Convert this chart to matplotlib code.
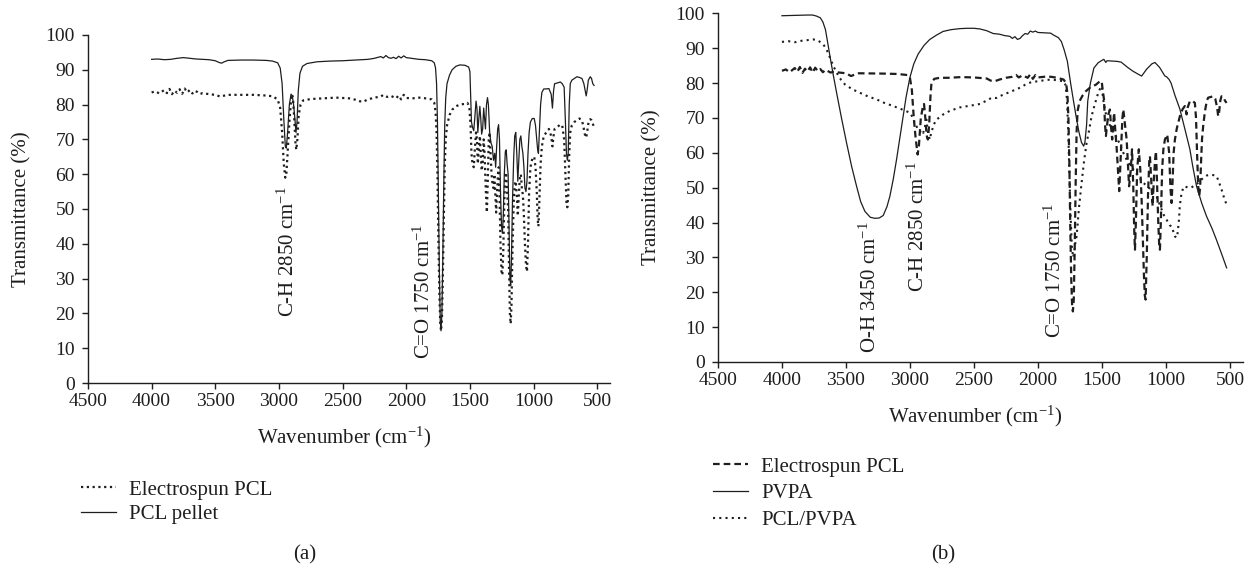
import matplotlib
matplotlib.use("Agg")
import matplotlib.pyplot as plt

plt.rcParams['font.family'] = ['Liberation Serif', 'DejaVu Serif']
plt.rcParams['mathtext.fontset'] = 'custom'
plt.rcParams['mathtext.rm'] = 'Liberation Serif'
plt.rcParams['mathtext.it'] = 'Liberation Serif:italic'

INK = '#1e1e1e'

# ---------------- panel (a) data ----------------
a_pellet_wn = [4000, 3950, 3900, 3850, 3800, 3750, 3700, 3650, 3600, 3550, 3500, 3470, 3450, 3430, 3400,
               3300, 3200, 3100, 3050, 3010, 2990, 2975, 2962, 2950, 2942, 2932, 2918, 2905, 2895, 2885,
               2875, 2866, 2858, 2848, 2835, 2815, 2780, 2700, 2600, 2500, 2400, 2300, 2250, 2200, 2180,
               2160, 2140, 2120, 2100, 2080, 2060, 2040, 2020, 2000, 1960, 1900, 1850, 1800, 1780, 1770,
               1762, 1755, 1748, 1740, 1733, 1727, 1720, 1713, 1705, 1698, 1690, 1680, 1660, 1640, 1610,
               1580, 1540, 1510, 1500, 1494, 1488, 1480, 1470, 1460, 1452, 1445, 1438, 1430, 1422, 1415,
               1408, 1400, 1392, 1385, 1378, 1370, 1362, 1355, 1345, 1335, 1325, 1315, 1305, 1298, 1290,
               1282, 1275, 1268, 1260, 1252, 1245, 1238, 1230, 1222, 1215, 1208, 1200, 1193, 1186, 1180,
               1174, 1166, 1156, 1148, 1140, 1132, 1124, 1116, 1108, 1100, 1092, 1084, 1076, 1068, 1060,
               1052, 1044, 1035, 1025, 1010, 995, 985, 975, 968, 962, 955, 945, 935, 920, 900, 880, 862,
               852, 843, 835, 815, 790, 775, 760, 750, 742, 735, 728, 720, 712, 700, 680, 660, 640, 620,
               605, 595, 587, 580, 570, 555, 545, 535, 525]
a_pellet_T = [93.0, 93.1, 92.9, 93.0, 93.3, 93.5, 93.3, 93.1, 93.0, 92.9, 92.6, 92.1, 91.9, 92.3, 92.7,
              92.8, 92.8, 92.7, 92.5, 92.0, 90.5, 86, 76, 68, 67.5, 72, 80, 83, 82.5, 80,
              76, 72, 75, 84, 89, 91, 91.8, 92.3, 92.5, 92.6, 92.8, 93.0, 93.3, 93.8, 93.4,
              94.1, 93.5, 93.3, 93.6, 93.2, 93.9, 93.4, 94.0, 93.5, 93.3, 93.0, 92.9, 92.6, 92.0, 90.5,
              86, 75, 55, 32, 18, 15, 20, 36, 58, 74, 82, 86, 88.5, 90, 91,
              91.4, 91.3, 90.8, 89.5, 82, 75, 73.5, 72.5, 77, 81, 79, 72, 76, 79.5, 76,
              71.5, 73, 79, 76, 73, 80, 82, 80, 72, 69, 68, 64, 66, 62, 68,
              73, 74.2, 70, 55, 45, 43, 48, 60, 66.5, 67, 63, 60, 45, 30, 28,
              35, 52, 65, 71, 72, 66, 58, 64, 70, 71, 68, 66, 62, 56, 55,
              58, 66, 72, 75, 76, 76, 74, 70, 67, 66, 72, 80, 83.5, 84.5, 84.5, 84.6, 83,
              79, 84, 86, 86.2, 86.5, 86, 85, 75, 66, 64, 66, 80, 86, 87, 87.5, 88, 87.8, 87.5,
              86, 84, 82.5, 84, 87, 88, 87.5, 86, 85.5]

a_espun_wn = [4000, 3970, 3940, 3900, 3880, 3860, 3840, 3820, 3800, 3780, 3760, 3740, 3720, 3700, 3680,
              3660, 3640, 3620, 3600, 3550, 3500, 3460, 3440, 3400, 3300, 3200, 3100, 3050, 3010, 2990,
              2975, 2962, 2950, 2942, 2932, 2918, 2905, 2898, 2890, 2880, 2870, 2864, 2855, 2845, 2830,
              2810, 2750, 2650, 2550, 2450, 2400, 2370, 2340, 2300, 2250, 2200, 2180, 2150, 2120, 2080,
              2060, 2040, 2020, 2000, 1950, 1900, 1850, 1800, 1780, 1770, 1762, 1755, 1748, 1740, 1733,
              1727, 1720, 1713, 1705, 1698, 1690, 1680, 1660, 1640, 1610, 1580, 1540, 1520, 1505, 1495,
              1488, 1480, 1470, 1460, 1452, 1445, 1438, 1430, 1422, 1415, 1408, 1400, 1392, 1385, 1375,
              1367, 1360, 1352, 1345, 1338, 1330, 1322, 1315, 1308, 1300, 1294, 1288, 1280, 1274, 1268,
              1260, 1252, 1245, 1238, 1230, 1222, 1215, 1208, 1200, 1193, 1186, 1180, 1174, 1166, 1156,
              1148, 1140, 1132, 1124, 1116, 1108, 1100, 1092, 1084, 1076, 1068, 1060, 1052, 1044, 1035,
              1025, 1010, 995, 985, 975, 968, 962, 955, 945, 935, 920, 900, 880, 862, 852, 843, 835,
              815, 790, 775, 760, 750, 742, 735, 728, 720, 712, 700, 680, 660, 640, 620, 605, 595, 587,
              580, 570, 555, 545, 535, 525]
a_espun_T = [83.5, 83.8, 83.2, 84.2, 83.3, 84.5, 83.0, 84.0, 83.4, 84.4, 83.1, 84.6, 83.5, 84.2, 83.2,
             84.0, 83.6, 83.0, 83.3, 83.0, 82.8, 82.3, 82.5, 82.8, 82.8, 82.8, 82.6, 82.4, 81.5, 79,
             72, 63, 59, 60, 66, 75, 81, 83, 82, 76, 69, 67, 70, 77, 80,
             81.2, 81.6, 81.8, 82.0, 81.8, 81.4, 81.0, 80.8, 81.5, 82.0, 82.3, 82.8, 82.2, 82.5, 81.8,
             82.6, 81.5, 82.8, 81.9, 81.8, 82.0, 81.8, 81.5, 80.5, 78, 72, 60, 42, 26, 17,
             15, 18, 30, 48, 62, 70, 74, 77, 78.5, 79.5, 80, 80.2, 80.5, 79.5, 74,
             66, 63, 62, 68, 72, 70, 63, 67, 71, 66, 61, 63, 70, 66, 55,
             49, 58, 70, 72, 66, 60, 57, 56, 60, 54, 49, 54, 60, 62, 55,
             40, 32, 31, 38, 52, 60, 60.5, 55, 50, 33, 20, 17, 22, 38, 52,
             57, 58, 54, 48, 54, 59, 60, 56, 54, 48, 40, 34, 32, 40, 55,
             62, 64.5, 65, 62, 55, 47, 45, 52, 63, 68, 71, 72, 73, 71, 68, 71, 73,
             73.5, 74.3, 74, 70, 60, 52, 50.5, 54, 66, 72, 74, 75, 75.5, 76, 75.5, 73, 71, 70.5,
             72, 74.5, 75.8, 75.5, 74.5, 73.5]

# ---------------- panel (b) data ----------------
b_pvpa_wn = [4000, 3900, 3800, 3760, 3730, 3700, 3680, 3660, 3640, 3625, 3600, 3573, 3535, 3495, 3455,
             3417, 3385, 3352, 3310, 3274, 3240, 3209, 3180, 3157, 3130, 3105, 3080, 3053, 3030, 3001,
             2970, 2936, 2890, 2845, 2790, 2741, 2680, 2611, 2550, 2500, 2452, 2400, 2350, 2300, 2260,
             2220, 2200, 2180, 2160, 2140, 2120, 2100, 2080, 2060, 2040, 2020, 2000, 1950, 1900, 1880,
             1840, 1817, 1795, 1770, 1745, 1722, 1700, 1680, 1660, 1643, 1633, 1620, 1611, 1590, 1563,
             1530, 1500, 1485, 1470, 1460, 1420, 1380, 1350, 1300, 1258, 1220, 1190, 1150, 1110, 1086,
             1050, 1008, 995, 975, 960, 930, 891, 850, 813, 790, 761, 720, 683, 640, 605, 565, 526]
b_pvpa_T = [99.3, 99.4, 99.5, 99.5, 99.2, 98.7, 97.5, 95.3, 91, 87.7, 82.5, 77.2, 70, 62.8, 56,
            50.4, 46, 43.2, 41.5, 41.2, 41.3, 42, 44.5, 47.5, 52.5, 58, 64, 70.5, 76, 81.5,
            85.5, 88.3, 90.8, 92.5, 93.8, 94.8, 95.3, 95.6, 95.7, 95.7, 95.5, 95.0, 94.2, 94.0, 93.6,
            93.4, 92.8, 93.3, 92.5, 92.8, 93.6, 94.2, 94.0, 94.9, 94.6, 94.9, 94.5, 94.4, 94.3, 93.8,
            93.0, 91.9, 89.5, 86.2, 80, 74.8, 70, 66, 63, 61.9, 63, 68, 74.8, 80, 84.3,
            85.8, 86.5, 86.8, 85.9, 86.4, 86.3, 86.2, 86.0, 84.5, 83.4, 82.6, 82.0, 84, 85.5, 85.9,
            84.5, 82, 81.8, 81, 80, 76.5, 72.5, 66.5, 61, 56, 50.4, 45.5, 41.8, 38.3, 35, 31, 27]

b_espun_wn = [4000, 3970, 3940, 3900, 3880, 3860, 3840, 3820, 3800, 3780, 3760, 3740, 3720, 3700, 3680,
              3660, 3640, 3620, 3600, 3500, 3460, 3440, 3400, 3200, 3100, 3020, 3000, 2985, 2970, 2955,
              2940, 2930, 2915, 2900, 2890, 2880, 2870, 2860, 2850, 2840, 2832, 2810, 2767, 2700, 2600,
              2500, 2400, 2370, 2340, 2300, 2250, 2200, 2170, 2150, 2120, 2080, 2060, 2040, 2020, 2000,
              1950, 1900, 1850, 1800, 1780, 1770, 1762, 1755, 1748, 1740, 1733, 1727, 1720, 1713, 1705,
              1698, 1690, 1675, 1650, 1627, 1590, 1548, 1516, 1502, 1494, 1484, 1476, 1469, 1460, 1450,
              1438, 1428, 1420, 1412, 1405, 1395, 1386, 1375, 1365, 1352, 1340, 1333, 1320, 1307, 1295,
              1288, 1275, 1265, 1255, 1248, 1242, 1235, 1225, 1212, 1200, 1190, 1180, 1172, 1165, 1159,
              1150, 1140, 1130, 1125, 1115, 1104, 1095, 1085, 1078, 1070, 1060, 1052, 1047, 1040, 1030,
              1020, 1008, 990, 975, 965, 956, 948, 940, 930, 915, 891, 870, 852, 845, 839, 830, 813,
              790, 774, 765, 757, 748, 740, 733, 725, 718, 709, 695, 680, 670, 650, 631, 615, 600, 592,
              585, 575, 566, 550, 540, 526]
b_espun_T = [83.5, 83.9, 83.1, 84.3, 83.2, 84.6, 82.9, 84.1, 83.3, 84.5, 83.0, 84.4, 83.4, 84.0, 83.1,
             83.8, 83.4, 83.0, 83.2, 82.8, 82.0, 82.3, 82.8, 82.7, 82.6, 82.3, 81.5, 78, 70, 64,
             59.5, 62, 70, 73, 74, 70, 65, 63.8, 68, 76, 80, 81.2, 81.5, 81.5, 81.7,
             81.6, 81.3, 80.7, 80.5, 81.0, 81.5, 81.8, 82.3, 81.6, 82.2, 81.5, 82.5, 81.2, 82.3, 81.6,
             81.8, 81.8, 81.5, 81.0, 80, 77, 70, 58, 40, 24, 16, 14.5, 18, 32, 52,
             66, 72, 74.8, 76.5, 77.6, 78.8, 79.5, 80.5, 80.5, 78, 75.3, 68, 64.8, 68, 71,
             72.4, 67, 63.8, 68, 71.5, 66, 61.9, 55, 49, 60, 70, 72.4, 68, 63.8, 55,
             50.4, 55, 61, 50, 38, 32.2, 40, 55, 61, 55, 46.6, 35, 25, 19, 17.9,
             30, 48, 58, 59, 52, 44.7, 52, 58, 60.4, 52, 40, 33, 32.2, 40, 55,
             61, 63.8, 65.2, 60, 50, 45.6, 52, 60, 63.8, 67, 70.5, 72.5, 73.4, 72.5, 71, 73, 74.8,
             74.8, 74.3, 70, 60, 50.4, 47.6, 50, 58, 64, 67.7, 72, 75, 75.8, 76, 76.2, 75.5, 73, 70.5,
             71.5, 75, 76.2, 76, 75, 74.3]

b_blend_wn = [4000, 3950, 3900, 3850, 3800, 3755, 3720, 3700, 3677, 3650, 3625, 3600, 3573, 3540, 3508,
              3450, 3391, 3330, 3261, 3200, 3131, 3060, 3001, 2975, 2960, 2949, 2935, 2920, 2910, 2897,
              2885, 2871, 2860, 2850, 2845, 2835, 2815, 2793, 2740, 2689, 2611, 2530, 2452, 2400, 2360,
              2325, 2300, 2262, 2214, 2150, 2100, 2050, 2000, 1950, 1900, 1850, 1800, 1785, 1775, 1765,
              1755, 1745, 1735, 1725, 1715, 1705, 1698, 1680, 1659, 1640, 1620, 1600, 1581, 1555, 1529,
              1510, 1502, 1490, 1475, 1464, 1440, 1420, 1400, 1380, 1360, 1340, 1320, 1300, 1280, 1260,
              1240, 1220, 1200, 1180, 1150, 1120, 1100, 1073, 1040, 1015, 995, 970, 956, 944, 930, 913,
              900, 891, 880, 865, 852, 830, 802, 787, 748, 709, 680, 656, 630, 604, 585, 565, 545, 526]
b_blend_T = [91.8, 92.0, 91.7, 92.1, 92.3, 92.5, 92.3, 91.7, 91.1, 89.5, 87.3, 85, 83, 81, 79.6,
             78.2, 77.2, 76.2, 75.3, 74.3, 73.4, 72.4, 71.5, 70, 68, 67.6, 66.5, 66, 66.5, 65.7,
             67, 69.5, 66, 64.5, 63.8, 65.5, 68, 69.5, 71, 72, 73, 73.5, 74, 75, 75.8,
             75.7, 76.2, 76.8, 77.5, 78.5, 79.5, 80.3, 80.5, 80.8, 81.0, 80.8, 80.5, 79.5, 76, 68,
             55, 42, 33, 30, 32, 35, 36, 44, 51.4, 57.5, 62.8, 66.5, 70.5, 74, 77.2,
             78.8, 79.1, 75.3, 72, 70.5, 68, 67, 65.5, 64, 62.5, 60.5, 59, 57.5, 56.5, 55.5,
             54.5, 53.5, 52.5, 51.5, 50.5, 49.5, 48.5, 47.5, 44.3, 42, 40.8, 39.2, 38.9, 37.6, 36, 35.7,
             40, 45, 48, 50, 50.4, 50, 50, 50.4, 51.4, 52.8, 53.5, 53.7, 53.6, 53.3, 51.5, 49.4, 47, 45.1]

x_ticks = [4500, 4000, 3500, 3000, 2500, 2000, 1500, 1000, 500]
y_ticks = [0, 10, 20, 30, 40, 50, 60, 70, 80, 90, 100]

fig = plt.figure(figsize=(12.51, 5.68), dpi=100)
ax_a = fig.add_axes([0.0703, 0.3257, 0.4173, 0.6127])
ax_b = fig.add_axes([0.5739, 0.3627, 0.4195, 0.6139])

la_dot, = ax_a.plot(a_espun_wn, a_espun_T, color=INK, lw=1.6, ls=(0, (1, 1.6)))
la_sol, = ax_a.plot(a_pellet_wn, a_pellet_T, color=INK, lw=0.9)

lb_dash, = ax_b.plot(b_espun_wn, b_espun_T, color=INK, lw=1.6, ls=(0, (3, 1.8)))
lb_sol, = ax_b.plot(b_pvpa_wn, b_pvpa_T, color=INK, lw=0.9)
lb_dot, = ax_b.plot(b_blend_wn, b_blend_T, color=INK, lw=1.5, ls=(0, (1, 2)))

for ax in (ax_a, ax_b):
    ax.set_xlim(4500, 400)
    ax.set_ylim(0, 100)
    ax.set_xticks(x_ticks)
    ax.set_yticks(y_ticks)
    ax.spines['top'].set_visible(False)
    ax.spines['right'].set_visible(False)
    for s in ('left', 'bottom'):
        ax.spines[s].set_color(INK)
        ax.spines[s].set_linewidth(1.0)
    ax.tick_params(axis='both', direction='out', length=4.5, width=1.0, color=INK,
                   labelsize=14, labelcolor=INK)
    ax.tick_params(axis='y', pad=5)
    ax.tick_params(axis='x', pad=3)
    ax.set_xlabel('Wavenumber (cm$^{-1}$)', fontsize=15, color=INK, va='center')
    ax.xaxis.set_label_coords(0.49, -0.155)
    ax.set_ylabel('Transmittance (%)', fontsize=15, color=INK, va='center')
    ax.yaxis.set_label_coords(-0.126, 0.5)

ann = dict(rotation=90, ha='center', va='bottom', fontsize=15, color=INK)
ax_a.text(2930, 19, 'C-H 2850 cm$^{-1}$', **ann)
ax_a.text(1858, 7, 'C=O 1750 cm$^{-1}$', **ann)
ax_b.text(3312, 2.5, 'O-H 3450 cm$^{-1}$', **ann)
ax_b.text(2937, 20, 'C-H 2850 cm$^{-1}$', **ann)
ax_b.text(1865, 7, 'C=O 1750 cm$^{-1}$', **ann)

leg_kw = dict(loc='upper left', frameon=False, fontsize=15, handlelength=1.7,
              handletextpad=0.6, borderpad=0, borderaxespad=0)
for t in fig.legend([la_dot, la_sol], ['Electrospun PCL', 'PCL pellet'], labelspacing=0.25,
                    bbox_to_anchor=(81 / 1251, 1 - 480 / 568), **leg_kw).get_texts():
    t.set_color(INK)
for t in fig.legend([lb_dash, lb_sol, lb_dot], ['Electrospun PCL', 'PVPA', 'PCL/PVPA'],
                    labelspacing=0.34,
                    bbox_to_anchor=(713 / 1251, 1 - 457 / 568), **leg_kw).get_texts():
    t.set_color(INK)

fig.text(305 / 1251, 1 - 555 / 568, '(a)', ha='center', va='center', fontsize=15, color=INK)
fig.text(943 / 1251, 1 - 555 / 568, '(b)', ha='center', va='center', fontsize=15, color=INK)

fig.savefig('out.png', dpi=100, facecolor='white')
